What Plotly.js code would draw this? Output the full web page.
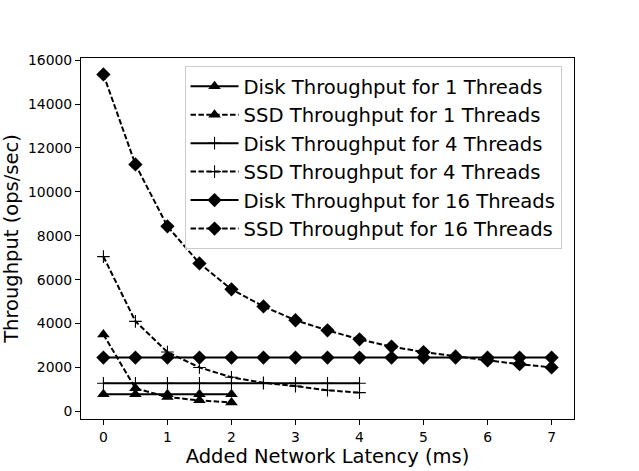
<!DOCTYPE html>
<html>
<head>
<meta charset="utf-8">
<script src="https://cdn.plot.ly/plotly-3.0.1.min.js"></script>
<style>html,body{margin:0;padding:0;background:#fff;}#chart{width:639px;height:471px;}</style>
</head>
<body>
<div id="chart"></div>
<script>
// Added network latency (ms)
const latency1 = [0, 0.5, 1, 1.5, 2];
const latency4 = [0, 0.5, 1, 1.5, 2, 2.5, 3, 3.5, 4];
const latency16 = [0, 0.5, 1, 1.5, 2, 2.5, 3, 3.5, 4, 4.5, 5, 5.5, 6, 6.5, 7];

// Throughput (ops/sec)
const disk1 = [780, 780, 780, 780, 780];
const ssd1 = [3500, 1050, 650, 500, 400];
const disk4 = [1280, 1280, 1280, 1280, 1280, 1280, 1280, 1280, 1280];
const ssd4 = [7050, 4100, 2700, 2000, 1550, 1300, 1150, 960, 850];
const disk16 = [2450, 2450, 2450, 2450, 2450, 2450, 2450, 2450, 2450, 2450, 2450, 2450, 2450, 2450, 2450];
const ssd16 = [15350, 11250, 8430, 6740, 5560, 4780, 4150, 3690, 3280, 2950, 2700, 2500, 2320, 2150, 2000];

const names = [
  "Disk Throughput for 1 Threads",
  "SSD Throughput for 1 Threads",
  "Disk Throughput for 4 Threads",
  "SSD Throughput for 4 Threads",
  "Disk Throughput for 16 Threads",
  "SSD Throughput for 16 Threads"
];

const xTicks = [0, 1, 2, 3, 4, 5, 6, 7];
const yTicks = [0, 2000, 4000, 6000, 8000, 10000, 12000, 14000, 16000];

const DASH = "5.5px,2.4px";
const tri = {symbol: "triangle-up", size: 11, color: "#000"};
const crs = {symbol: "cross-thin", size: 9, color: "#000", line: {width: 1.1, color: "#000"}};
const dia = {symbol: "diamond", size: 11, color: "#000"};

function tr(x, y, i, dash, marker) {
  return {
    x: x, y: y, name: names[i], type: "scatter", mode: "lines+markers",
    line: {color: "#000", width: 2, dash: dash},
    marker: marker
  };
}

const data = [
  tr(latency1, disk1, 0, "solid", tri),
  tr(latency1, ssd1, 1, DASH, tri),
  tr(latency4, disk4, 2, "solid", crs),
  tr(latency4, ssd4, 3, DASH, crs),
  tr(latency16, disk16, 4, "solid", dia),
  tr(latency16, ssd16, 5, DASH, dia)
];

const layout = {
  width: 639, height: 471,
  margin: {l: 81, r: 65, t: 58, b: 52, pad: 0},
  paper_bgcolor: "#fff", plot_bgcolor: "#fff",
  font: {family: "DejaVu Sans", size: 14, color: "#000"},
  showlegend: true,
  legend: {
    x: 0.21, y: 0.978, xanchor: "left", yanchor: "top",
    bgcolor: "rgba(255,255,255,0.8)", bordercolor: "#cccccc", borderwidth: 1,
    font: {family: "DejaVu Sans", size: 19.6, color: "#000"},
    tracegroupgap: 0, itemwidth: 48
  },
  xaxis: {
    range: [-0.35, 7.35], tickvals: xTicks, ticktext: xTicks.map(String),
    showgrid: false, zeroline: false, showline: true, mirror: true,
    linecolor: "#000", linewidth: 1, ticks: "outside", ticklen: 5, tickcolor: "#000",
    tickfont: {family: "DejaVu Sans", size: 13.9, color: "#000"},
    title: {text: "Added Network Latency (ms)", font: {family: "DejaVu Sans", size: 19.5, color: "#000"}, standoff: 4}
  },
  yaxis: {
    range: [-350, 16100], tickvals: yTicks, ticktext: yTicks.map(String),
    showgrid: false, zeroline: false, showline: true, mirror: true,
    linecolor: "#000", linewidth: 1, ticks: "outside", ticklen: 5, tickcolor: "#000",
    tickfont: {family: "DejaVu Sans", size: 13.9, color: "#000"},
    title: {text: "Throughput (ops/sec)", font: {family: "DejaVu Sans", size: 19.5, color: "#000"}, standoff: 11}
  }
};

Plotly.newPlot("chart", data, layout, {displayModeBar: false, staticPlot: true});
</script>
</body>
</html>
